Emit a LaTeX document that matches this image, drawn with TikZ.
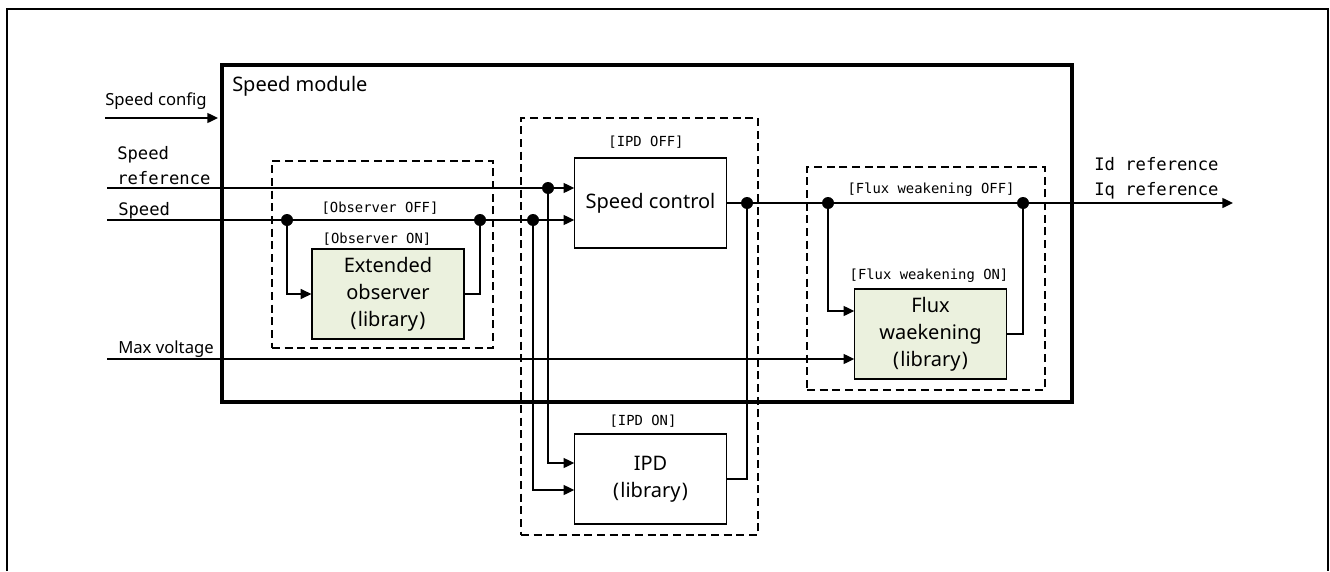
\documentclass[tikz,border=0pt]{standalone}
\usepackage{fontspec}
\setmainfont{Noto Sans}
\newfontfamily\monof{DejaVu Sans Mono}
\usetikzlibrary{arrows.meta,fit}
\definecolor{libgreen}{HTML}{EBF1DE}
\begin{document}
\begin{tikzpicture}[x=0.75pt,y=-0.75pt,
 conn/.style={line width=1pt},
 arr/.style={conn,-{Triangle[length=8pt,width=7.5pt]}},
 dot/.style={circle,fill,inner sep=0pt,minimum size=9pt},
 blk/.style={draw,line width=0.9pt,inner sep=0pt,align=center,minimum width=113.5pt,minimum height=67.5pt,font=\fontsize{15}{20.25}\selectfont},
 lib/.style={blk,fill=libgreen},
 grp/.style={draw,line width=0.8pt,dash pattern=on 6pt off 3.5pt,inner sep=0pt},
 lbl/.style={font=\fontsize{12.5}{15}\selectfont,inner sep=0pt,anchor=base west},
 mlbl/.style={font=\monof\fontsize{12.9}{15}\selectfont,inner sep=0pt,anchor=base west},
 cond/.style={font=\monof\fontsize{10.4}{12}\selectfont,inner sep=0pt},
]
\useasboundingbox (0,0) rectangle (1330,571);
% outer frame
\draw[line width=1.5pt] (7,571) -- (7,9) -- (1328,9) -- (1328,571);
% module
\node[draw,line width=3pt,inner sep=0pt,fit={(222,65)(1072,402)}] (mod) {};
\node[font=\fontsize{15}{18}\selectfont,anchor=base west,inner sep=0pt] (modlbl) at (232,91) {Speed module};
% groups
\node[grp,fit={(272,161)(493,348)}] (gobs) {};
\node[grp,fit={(521,118)(758,535)}] (gipd) {};
\node[grp,fit={(807,167)(1045,390)}] (gflux) {};
% blocks
\node[lib,minimum width=114pt] (obs) at (388,294) {Extended\\observer\\(\kern1pt library\kern1pt)};
\node[blk] (sc) at (650.5,203) {Speed control};
\node[blk] (ipd) at (650.5,479) {IPD\\(\kern1pt library\kern1pt)};
\node[lib] (fw) at (930.5,334) {Flux\\waekening\\(\kern1pt library\kern1pt)};
% junctions and terminals
\coordinate (jref) at (548,188);
\coordinate (jspd) at (533,220);
\coordinate (jo1) at (287,220);
\coordinate (jo2) at (480,220);
\coordinate (jsc) at (747,203);
\coordinate (jf1) at (828,203);
\coordinate (jf2) at (1023,203);
\coordinate (inCfg) at (105,118);
\coordinate (inRef) at (107,188);
\coordinate (inSpd) at (107,220);
\coordinate (inMax) at (107,359);
\coordinate (outRef) at (1233,203);
% connectors
\draw[arr,shorten >=1.5pt] (inCfg) -- (inCfg -| mod.west);
\draw[arr] (inRef) -- (inRef -| sc.west);
\draw[arr] (inSpd) -- (inSpd -| sc.west);
\draw[arr] (jo1) |- (obs.west);
\draw[conn] (obs.east) -| (jo2);
\draw[arr] (jref) |- ([yshift=12pt]ipd.west);
\draw[arr] (jspd) |- ([yshift=-8.25pt]ipd.west);
\draw[conn] (ipd.east) -| (jsc);
\draw[arr] (sc.east) -- (outRef);
\draw[arr] (jf1) |- ([yshift=17.25pt]fw.west);
\draw[arr] (inMax) -- (inMax -| fw.west);
\draw[conn] (fw.east) -| (jf2);
% dots
\node[dot] (djref) at (jref) {};
\node[dot] (djspd) at (jspd) {};
\node[dot] (djo1) at (jo1) {};
\node[dot] (djo2) at (jo2) {};
\node[dot] (djsc) at (jsc) {};
\node[dot] (djf1) at (jf1) {};
\node[dot] (djf2) at (jf2) {};
% condition labels
\node[cond] (cObsOff) at (380,208) {[Observer OFF]};
\node[cond] (cObsOn) at (377,239) {[Observer ON]};
\node[cond] (cIpdOff) at (646,142) {[IPD OFF]};
\node[cond] (cIpdOn) at (643,421) {[IPD ON]};
\node[cond] (cFwOff) at (931,190) {[Flux weakening OFF]};
\node[cond] (cFwOn) at (929,276) {[Flux weakening ON]};
% signal labels
\node[lbl] (lCfg) at (105,105) {Speed config};
\node[mlbl] (lRef1) at (117,159) {Speed};
\node[mlbl] (lRef2) at (117,184) {reference};
\node[mlbl] (lSpd) at (118,215) {Speed};
\node[lbl] (lMax) at (118,353) {Max voltage};
\node[mlbl] (lId) at (1094,170) {Id reference};
\node[mlbl] (lIq) at (1094,195) {Iq reference};
\end{tikzpicture}
\end{document}
